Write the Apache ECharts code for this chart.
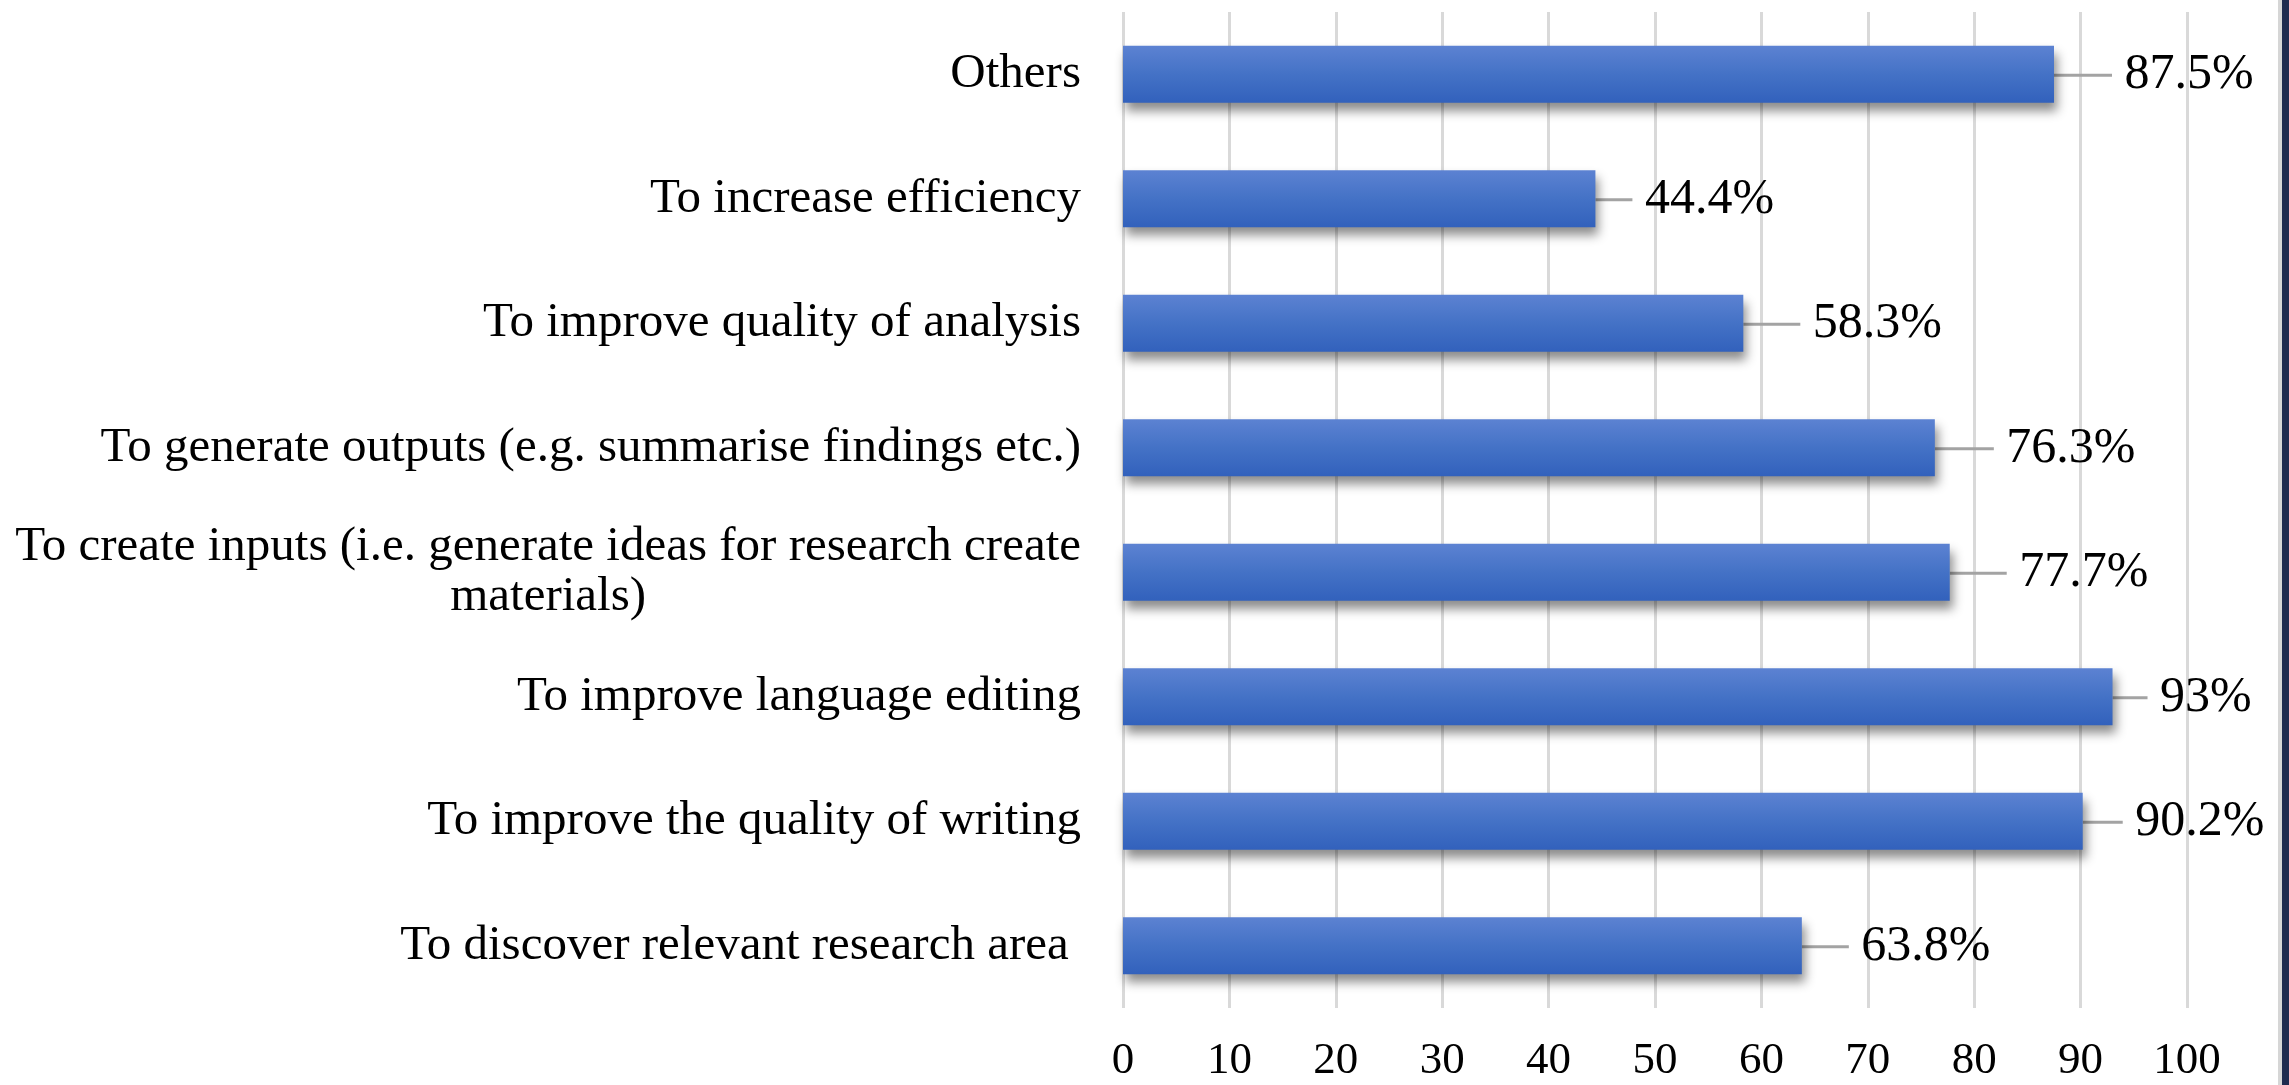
<!DOCTYPE html>
<html>
<head>
<meta charset="utf-8">
<script src="https://cdn.jsdelivr.net/npm/echarts@6/dist/echarts.min.js"></script>
<style>
html,body{margin:0;padding:0;background:#fff;}
#c{width:2289px;height:1085px;}
</style>
</head>
<body>
<div id="c"></div>
<script>
// Categories, top to bottom as in the picture
const categories = [
  'Others',
  'To increase efficiency',
  'To improve quality of analysis',
  'To generate outputs (e.g. summarise findings etc.)',
  'To create inputs (i.e. generate ideas for research create\nmaterials)',
  'To improve language editing',
  'To improve the quality of writing',
  'To discover relevant research area '
];
const values = [87.5, 44.4, 58.3, 76.3, 77.7, 93, 90.2, 63.8];
const xTicks = [0, 10, 20, 30, 40, 50, 60, 70, 80, 90, 100];
// label-leader lengths (px) as placed in the original picture
const labelGaps = [71, 50, 70, 72, 70, 48, 53, 60];

const FONT = '"Liberation Serif", "Times New Roman", serif';
const chart = echarts.init(document.getElementById('c'));
chart.setOption({
  animation: false,
  backgroundColor: '#ffffff',
  grid: { left: 1123, right: 102, top: 12, bottom: 77 },
  xAxis: {
    type: 'value',
    min: xTicks[0],
    max: xTicks[xTicks.length - 1],
    interval: xTicks[1] - xTicks[0],
    axisLine: { show: false },
    axisTick: { show: false },
    splitLine: { show: true, lineStyle: { color: '#d9d9d9', width: 3 } },
    axisLabel: { fontFamily: FONT, fontSize: 45, color: '#000', margin: 31 }
  },
  yAxis: {
    type: 'category',
    inverse: true,
    data: categories,
    axisLine: { show: false },
    axisTick: { show: false },
    axisLabel: {
      margin: 42,
      formatter: function (v) { return '{c|' + v.split('\n').join('}\n{c|') + '}'; },
      rich: {
        c: { fontFamily: FONT, fontSize: 49, color: '#000', align: 'center', lineHeight: 50 }
      }
    }
  },
  series: [{
    type: 'bar',
    data: values,
    barWidth: 57,
    itemStyle: {
      color: new echarts.graphic.LinearGradient(0, 0, 0, 1, [
        { offset: 0, color: '#5c82d2' },
        { offset: 0.5, color: '#4472c6' },
        { offset: 1, color: '#3261bc' }
      ]),
      shadowColor: 'rgba(0,0,0,0.45)',
      shadowBlur: 10,
      shadowOffsetX: 3,
      shadowOffsetY: 8
    },
    label: {
      show: true,
      position: 'right',
      distance: 0,
      fontFamily: FONT,
      fontSize: 50,
      color: '#000',
      formatter: function (p) { return ' ' + p.value + '%'; }
    },
    labelLayout: function (p) {
      return { dx: labelGaps[p.dataIndex] - 13, dy: 1 };
    },
    labelLine: { show: true, lineStyle: { color: '#a3a3a3', width: 3 } }
  }],
  graphic: [
    { type: 'rect', shape: { x: 2278, y: 0, width: 4, height: 1085 }, style: { fill: '#d6d6d6' } },
    { type: 'rect', shape: { x: 2282, y: 0, width: 7, height: 1085 }, style: { fill: '#1f2b4f' } }
  ]
});
</script>
</body>
</html>
